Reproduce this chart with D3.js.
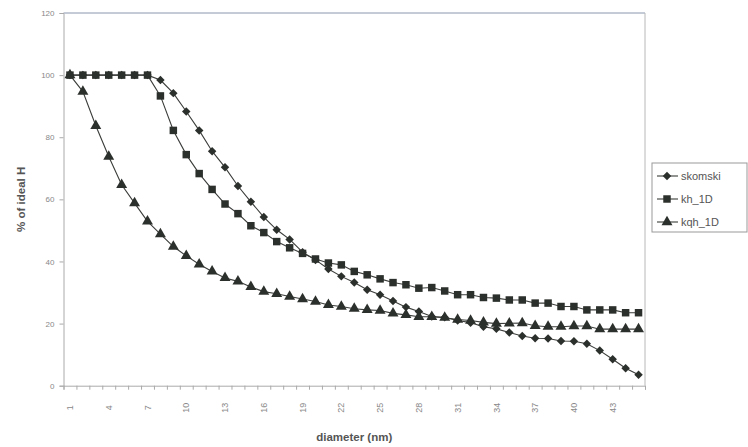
<!DOCTYPE html>
<html>
<head>
<meta charset="utf-8">
<script src="https://cdn.jsdelivr.net/npm/d3@7"></script>
<style>
  body { margin: 0; background: #fff; }
  text { font-family: "Liberation Sans", Arial, sans-serif; }
</style>
</head>
<body>
<div id="chart"></div>
<script>
var diameters = [1,2,3,4,5,6,7,8,9,10,11,12,13,14,15,16,17,18,19,20,21,22,23,24,25,26,27,28,29,30,31,32,33,34,35,36,37,38,39,40,41,42,43,44,45];
var tickLabels = [1,4,7,10,13,16,19,22,25,28,31,34,37,40,43];
var yTicks = [0,20,40,60,80,100,120];

var skomski = [100,100,100,100,100,100,100,98.4,94.2,88.3,82.2,75.5,70.3,64.3,59.2,54.3,50.2,47.1,43.0,40.5,37.6,35.2,33.2,30.9,29.3,27.3,25.3,23.9,22.3,22.0,21.0,20.3,19.0,18.3,17.1,16.0,15.3,15.2,14.4,14.3,13.5,11.3,8.5,5.6,3.5];
var kh_1D = [100,100,100,100,100,100,100,93.3,82.2,74.4,68.3,63.2,58.5,55.4,51.5,49.3,46.4,44.4,42.6,40.8,39.5,38.9,36.8,35.7,34.4,33.2,32.5,31.4,31.6,30.5,29.3,29.3,28.4,28.2,27.6,27.6,26.6,26.6,25.5,25.5,24.4,24.4,24.4,23.5,23.5];
var kqh_1D = [100,94.7,83.7,73.8,64.7,58.8,52.9,48.8,44.8,41.8,39.1,36.8,34.7,33.6,31.8,30.3,29.6,28.7,27.9,27.1,26.0,25.5,24.8,24.4,24.2,23.3,22.8,22.2,22.2,21.9,21.3,21.0,20.4,20.0,20.1,20.2,19.3,19.0,19.0,19.2,19.2,18.2,18.2,18.2,18.2];

var seriesNames = ["skomski", "kh_1D", "kqh_1D"];
var seriesData = [skomski, kh_1D, kqh_1D];
// diamond = square turned 45 degrees (Excel style, not d3's tall diamond)
var symbols = [d3.symbolSquare, d3.symbolSquare, d3.symbolTriangle];
var symSizes = [36, 56, 52];
var symRot = [45, 0, 0];

var W = 748, H = 447;
var pL = 63.5, pT = 13, pR = 645, pB = 385.7;

var svg = d3.select("#chart").append("svg").attr("width", W).attr("height", H);

var x = d3.scaleBand().domain(diameters).range([pL, pR]).padding(0);
var xb = d3.scaleLinear().domain([0, diameters.length]).range([pL, pR]);
var y = d3.scaleLinear().domain([0, 120]).range([pB, pT]);
var cx = function(i) { return x(diameters[i]) + x.bandwidth() / 2; };

// plot border (top + right)
svg.append("line").attr("x1", pL).attr("x2", pR).attr("y1", pT).attr("y2", pT)
  .attr("stroke", "#8a98b0").attr("stroke-width", 1);
svg.append("line").attr("x1", pR).attr("x2", pR).attr("y1", pT).attr("y2", pB)
  .attr("stroke", "#b8b8b8").attr("stroke-width", 1);

// y axis
var yAxis = svg.append("g").attr("transform", "translate(" + pL + ",0)")
  .call(d3.axisLeft(y).tickValues(yTicks).tickSize(4).tickPadding(5));
yAxis.select(".domain").attr("stroke", "#aaa");
yAxis.selectAll(".tick line").attr("stroke", "#aaa");
yAxis.selectAll("text").attr("fill", "#888").style("font-size", "8px");

// x axis: ticks at category boundaries
var xTickAxis = svg.append("g").attr("transform", "translate(0," + pB + ")")
  .call(d3.axisBottom(xb).tickValues(d3.range(0, diameters.length + 1)).tickSize(4).tickFormat(""));
xTickAxis.select(".domain").attr("stroke", "#aaa");
xTickAxis.selectAll(".tick line").attr("stroke", "#aaa");

// x labels, rotated
var xLab = svg.append("g").attr("transform", "translate(0," + pB + ")")
  .call(d3.axisBottom(x).tickValues(tickLabels).tickSize(0).tickPadding(0));
xLab.select(".domain").remove();
xLab.selectAll("text")
  .attr("transform", "translate(0,22) rotate(-90)")
  .attr("x", 0).attr("y", 0).attr("dy", "0.35em")
  .attr("text-anchor", "middle")
  .attr("fill", "#888").style("font-size", "9px");

// axis titles
svg.append("text").attr("x", (pL + pR) / 2).attr("y", 441)
  .attr("text-anchor", "middle").attr("fill", "#555")
  .style("font-size", "11.5px").style("font-weight", "bold").text("diameter (nm)");
svg.append("text").attr("transform", "translate(25," + ((pT + pB) / 2) + ") rotate(-90)")
  .attr("text-anchor", "middle").attr("fill", "#555")
  .style("font-size", "11.5px").style("font-weight", "bold").text("% of ideal H");

// series lines + markers, squares on top
var line = d3.line().x(function(d, i) { return cx(i); }).y(function(d) { return y(d); });
var order = [0, 2, 1];
order.forEach(function(s) {
  svg.append("path").datum(seriesData[s]).attr("d", line)
    .attr("fill", "none").attr("stroke", "#3a3d3a").attr("stroke-width", 1.1);
});
order.forEach(function(s) {
  svg.append("g").selectAll("path").data(seriesData[s]).enter().append("path")
    .attr("d", d3.symbol().type(symbols[s]).size(symSizes[s]))
    .attr("transform", function(d, i) { return "translate(" + cx(i) + "," + y(d) + ") rotate(" + symRot[s] + ")"; })
    .attr("fill", "#2c302c");
});

// legend
var lg = svg.append("g");
lg.append("rect").attr("x", 652).attr("y", 163).attr("width", 95).attr("height", 69)
  .attr("fill", "#fff").attr("stroke", "#999").attr("stroke-width", 1);
seriesNames.forEach(function(n, i) {
  var ly = 176 + i * 23;
  lg.append("line").attr("x1", 657).attr("x2", 678).attr("y1", ly).attr("y2", ly)
    .attr("stroke", "#3a3d3a").attr("stroke-width", 1.1);
  lg.append("path").attr("d", d3.symbol().type(symbols[i]).size(symSizes[i]))
    .attr("transform", "translate(667," + ly + ") rotate(" + symRot[i] + ")").attr("fill", "#2c302c");
  lg.append("text").attr("x", 681).attr("y", ly).attr("dy", "0.35em")
    .attr("fill", "#555").style("font-size", "11px").text(n);
});
</script>
</body>
</html>
